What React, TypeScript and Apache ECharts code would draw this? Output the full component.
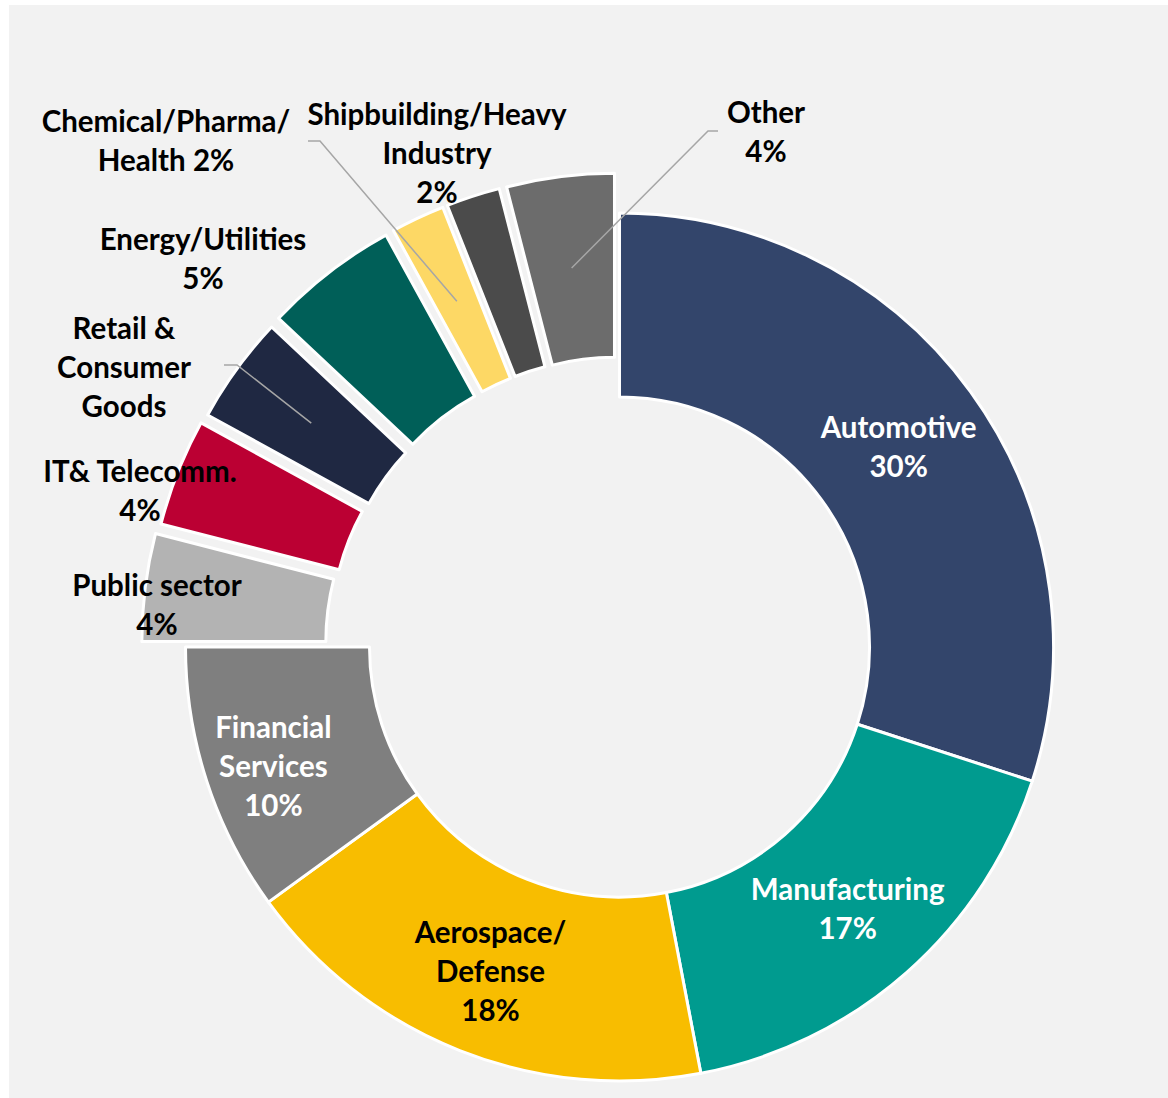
import React, { useEffect, useRef } from "react";
import * as echarts from "echarts";

// ---- data ----
const categories = [
  "Automotive",
  "Manufacturing",
  "Aerospace/\nDefense",
  "Financial\nServices",
  "Public sector",
  "IT& Telecomm.",
  "Retail &\nConsumer\nGoods",
  "Energy/Utilities",
  "Chemical/Pharma/\nHealth",
  "Shipbuilding/Heavy\nIndustry",
  "Other",
];
const shares = [30, 17, 18, 10, 4, 4, 4, 5, 2, 2, 4];
const labelTemplates = [
  "{b}\n{c}%", "{b}\n{c}%", "{b}\n{c}%", "{b}\n{c}%", "{b}\n{c}%", "{b}\n{c}%",
  "{b}", "{b}\n{c}%", "{b} {c}%", "{b}\n{c}%", "{b}\n{c}%",
];

// ---- styles ----
const sliceColors = [
  "#33456b", "#009b8f", "#f8bd00", "#7f7f7f", "#b3b3b3", "#bb0033",
  "#1f2842", "#005f58", "#fdd865", "#4b4b4b", "#6c6c6c",
];
const labelColors = [
  "#ffffff", "#ffffff", "#000000", "#ffffff", "#000000", "#000000",
  "#000000", "#000000", "#000000", "#000000", "#000000",
];

// ---- layout ----
const CX = 619.5;
const CY = 647;
const R_IN = 250;
const R_OUT = 434;
// explosion distance of each slice (0 = attached)
const explodeBy = [0, 0, 0, 0, 44, 41, 39, 40, 40, 40, 40];
const FONT = "Lato";
const FONT_SIZE = 29.5;
const LINE_H = 39;

// label centres for the outside labels (page px); null = inside label
const outerLabelCenters: ([number, number] | null)[] = [
  null, null, null, null,
  [157, 604], [140, 490], [124, 366], [203, 258], [166, 140], [437, 152], [766, 131],
];
const innerLabelNudge: ([number, number] | null)[] = [
  [0, 2], [0, 2], [-2, 3], [-18, 12], null, null, null, null, null, null, null,
];
// leader line start relative to label centre: [dx, dy, horizontal run]
const leaderStart: ([number, number, number] | null)[] = [
  null, null, null, null, null, null,
  [100, -1, 13], null, [142, 1, 12], null, [-48, 0, -10],
];

const total = shares.reduce((a, b) => a + b, 0);

function sliceAngles(i: number) {
  let before = 0;
  for (let k = 0; k < i; k++) before += shares[k];
  const start = 90 - (before / total) * 360;
  const mid = 90 - ((before + shares[i] / 2) / total) * 360;
  return { start, mid };
}

function sliceAnchor(i: number): [number, number] {
  const a = (sliceAngles(i).mid * Math.PI) / 180;
  const rr = (R_IN + R_OUT) / 2 + explodeBy[i];
  return [CX + rr * Math.cos(a), CY - rr * Math.sin(a)];
}

function labelOpt(i: number) {
  return {
    show: true,
    position: explodeBy[i] > 0 ? "outside" : "inside",
    formatter: labelTemplates[i],
    color: labelColors[i],
    fontFamily: FONT,
    fontWeight: "bold",
    fontSize: FONT_SIZE,
    lineHeight: LINE_H,
    align: "center",
  };
}

const hidden = {
  itemStyle: { color: "rgba(0,0,0,0)", borderWidth: 0 },
  label: { show: false },
  labelLine: { show: false },
};

function buildOption() {
  const mainData = categories.map((name, i) =>
    explodeBy[i] > 0
      ? { name, value: shares[i], ...hidden }
      : {
          name,
          value: shares[i],
          itemStyle: { color: sliceColors[i] },
          label: labelOpt(i),
          labelLine: { show: false },
        }
  );
  const series: any[] = [
    {
      type: "pie",
      center: [CX, CY],
      radius: [R_IN, R_OUT],
      startAngle: 90,
      clockwise: true,
      avoidLabelOverlap: false,
      silent: true,
      emphasis: { disabled: true },
      itemStyle: { borderColor: "#ffffff", borderWidth: 3 },
      labelLayout: (p: any) => {
        const n = innerLabelNudge[p.dataIndex];
        return n ? { dx: n[0], dy: n[1], hideOverlap: false } : { hideOverlap: false };
      },
      data: mainData,
    },
  ];
  const leaders: any[] = [];
  categories.forEach((name, i) => {
    if (!(explodeBy[i] > 0)) return;
    const { start, mid } = sliceAngles(i);
    const a = (mid * Math.PI) / 180;
    const d = explodeBy[i];
    const pos = outerLabelCenters[i] as [number, number];
    const ls = leaderStart[i];
    if (ls) {
      const sx = pos[0] + ls[0];
      const sy = pos[1] + ls[1];
      leaders.push({
        type: "polyline",
        z: 100,
        silent: true,
        shape: { points: [[sx, sy], [sx + ls[2], sy], sliceAnchor(i)] },
        style: { stroke: "#a6a6a6", lineWidth: 1.5, fill: null },
      });
    }
    series.push({
      type: "pie",
      center: [CX + d * Math.cos(a), CY - d * Math.sin(a)],
      radius: [R_IN, R_OUT],
      startAngle: start,
      clockwise: true,
      avoidLabelOverlap: false,
      silent: true,
      emphasis: { disabled: true },
      itemStyle: { borderColor: "#ffffff", borderWidth: 3 },
      labelLayout: (p: any) => {
        if (p.dataIndex !== 0) return { hideOverlap: false };
        return {
          x: pos[0],
          y: pos[1],
          align: "center",
          verticalAlign: "middle",
          hideOverlap: false,
        };
      },
      data: [
        {
          name,
          value: shares[i],
          itemStyle: { color: sliceColors[i] },
          label: labelOpt(i),
          labelLine: { show: false },
        },
        { name: "", value: total - shares[i], ...hidden },
      ],
    });
  });
  return { animation: false, backgroundColor: "transparent", series, graphic: leaders };
}

export default function App() {
  const ref = useRef<HTMLDivElement>(null);
  useEffect(() => {
    if (!ref.current) return;
    const chart = echarts.init(ref.current, undefined, { renderer: "svg" });
    chart.setOption(buildOption());
    return () => chart.dispose();
  }, []);
  return (
    <div
      style={{
        position: "absolute",
        left: 0,
        top: 0,
        width: 1168,
        height: 1098,
        background: "#ffffff",
        overflow: "hidden",
      }}
    >
      <div
        style={{
          position: "absolute",
          left: 9,
          top: 5,
          width: 1159,
          height: 1093,
          background: "#f2f2f2",
        }}
      />
      <div ref={ref} style={{ position: "absolute", left: 0, top: 0, width: 1168, height: 1098 }} />
    </div>
  );
}
